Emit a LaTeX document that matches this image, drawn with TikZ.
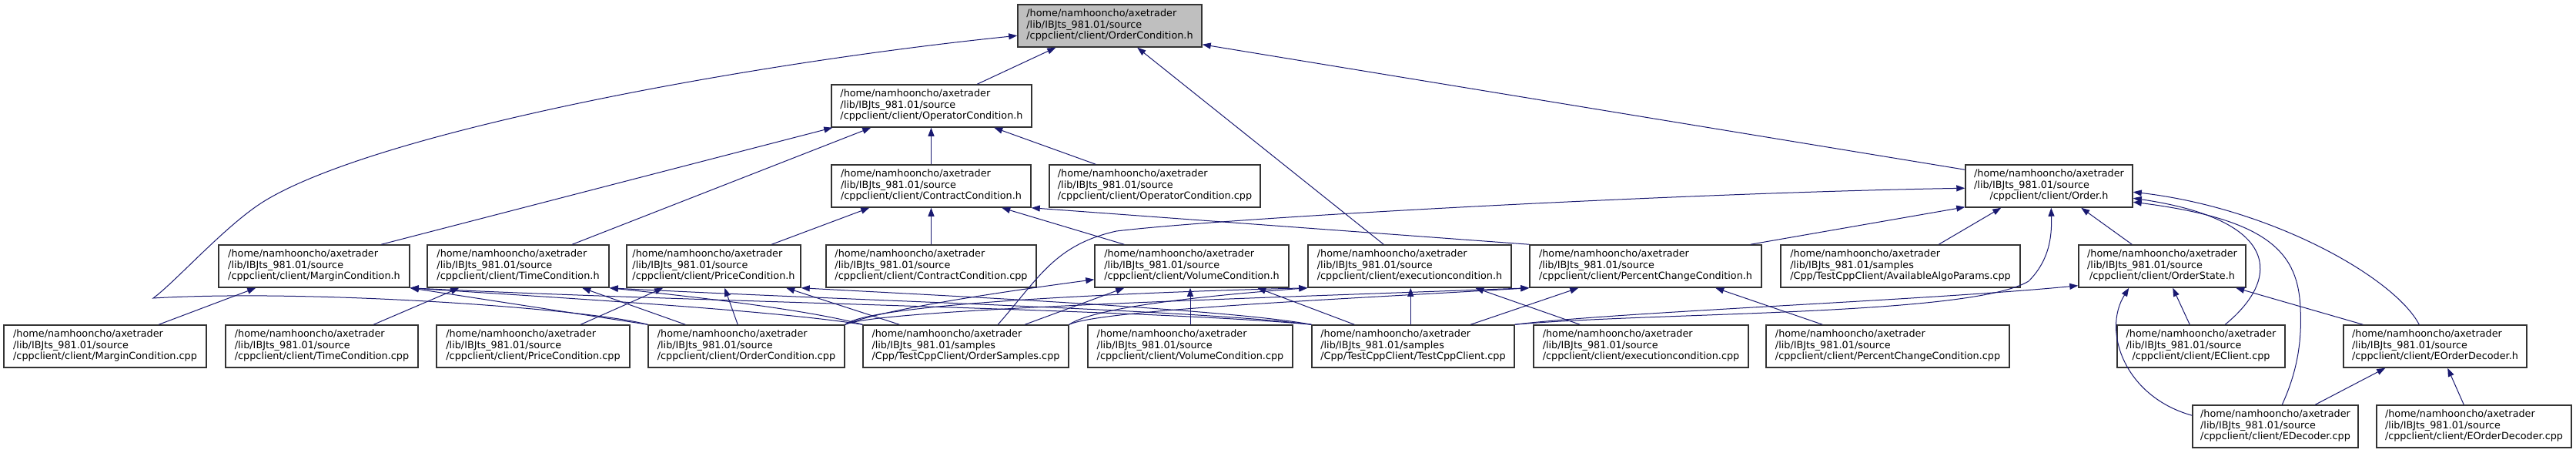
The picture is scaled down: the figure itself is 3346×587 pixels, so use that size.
\documentclass[tikz,border=0pt]{standalone}
\usepackage{fontspec}
\setmainfont{DejaVu Sans}
\usetikzlibrary{arrows.meta,calc}
\definecolor{edgecol}{HTML}{191970}
\definecolor{rootfill}{HTML}{BFBFBF}
\newcommand{\dlab}[3]{\begin{tabular}{@{}l@{}}#1\\#2\\\multicolumn{1}{@{}c@{}}{#3}\end{tabular}}
\newcommand{\hm}{/home/namhooncho/axetrader}
\newcommand{\srcl}{/lib/IBJts\_981.01/source}
\newcommand{\sml}{/lib/IBJts\_981.01/samples}
\begin{document}
\begin{tikzpicture}[x=1pt,y=-1pt,
  dbox/.style={draw=black!80, line width=1.5pt, fill=white, inner sep=0pt,
    minimum height=55pt, font=\fontsize{12.8}{14.4}\selectfont},
  rootbox/.style={dbox, fill=rootfill},
  dep/.style={draw=edgecol, line width=1pt, -{Triangle[length=11pt,width=8pt]}}]
\useasboundingbox (0,0) rectangle (3346,587);
% row 1
\node[rootbox, minimum width=239pt] (och) at (1441.5,33.5) {\dlab{\hm}{\srcl}{/cppclient/client/OrderCondition.h}};
% row 2
\node[dbox, minimum width=260pt] (oph) at (1210,137.5) {\dlab{\hm}{\srcl}{/cppclient/client/OperatorCondition.h}};
% row 3
\node[dbox, minimum width=259pt] (cch) at (1209.5,241.5) {\dlab{\hm}{\srcl}{/cppclient/client/ContractCondition.h}};
\node[dbox, minimum width=274pt] (opcpp) at (1500,241.5) {\dlab{\hm}{\srcl}{/cppclient/client/OperatorCondition.cpp}};
\node[dbox, minimum width=217pt] (ordh) at (2661.5,241.5) {\dlab{\hm}{\srcl}{/cppclient/client/Order.h}};
% row 4
\node[dbox, minimum width=248pt] (mch) at (408,345.5) {\dlab{\hm}{\srcl}{/cppclient/client/MarginCondition.h}};
\node[dbox, minimum width=236pt] (tch) at (673,345.5) {\dlab{\hm}{\srcl}{/cppclient/client/TimeCondition.h}};
\node[dbox, minimum width=226pt] (pch) at (927,345.5) {\dlab{\hm}{\srcl}{/cppclient/client/PriceCondition.h}};
\node[dbox, minimum width=273pt] (cccpp) at (1209.5,345.5) {\dlab{\hm}{\srcl}{/cppclient/client/ContractCondition.cpp}};
\node[dbox, minimum width=252pt] (vch) at (1548,345.5) {\dlab{\hm}{\srcl}{/cppclient/client/VolumeCondition.h}};
\node[dbox, minimum width=264pt] (ech) at (1831,345.5) {\dlab{\hm}{\srcl}{/cppclient/client/executioncondition.h}};
\node[dbox, minimum width=301pt] (pcch) at (2137.5,345.5) {\dlab{\hm}{\srcl}{/cppclient/client/PercentChangeCondition.h}};
\node[dbox, minimum width=311pt] (aap) at (2468.5,345.5) {\dlab{\hm}{\sml}{/Cpp/TestCppClient/AvailableAlgoParams.cpp}};
\node[dbox, minimum width=217pt] (osh) at (2808.5,345.5) {\dlab{\hm}{\srcl}{/cppclient/client/OrderState.h}};
% row 5
\node[dbox, minimum width=263pt] (mccpp) at (136.5,449.5) {\dlab{\hm}{\srcl}{/cppclient/client/MarginCondition.cpp}};
\node[dbox, minimum width=250pt] (tccpp) at (418,449.5) {\dlab{\hm}{\srcl}{/cppclient/client/TimeCondition.cpp}};
\node[dbox, minimum width=251pt] (pccpp) at (692.5,449.5) {\dlab{\hm}{\srcl}{/cppclient/client/PriceCondition.cpp}};
\node[dbox, minimum width=255pt] (occpp) at (969.5,449.5) {\dlab{\hm}{\srcl}{/cppclient/client/OrderCondition.cpp}};
\node[dbox, minimum width=267pt] (osam) at (1254.5,449.5) {\dlab{\hm}{\sml}{/Cpp/TestCppClient/OrderSamples.cpp}};
\node[dbox, minimum width=266pt] (vccpp) at (1546,449.5) {\dlab{\hm}{\srcl}{/cppclient/client/VolumeCondition.cpp}};
\node[dbox, minimum width=263pt] (tcc) at (1835.5,449.5) {\dlab{\hm}{\sml}{/Cpp/TestCppClient/TestCppClient.cpp}};
\node[dbox, minimum width=279pt] (eccpp) at (2131.5,449.5) {\dlab{\hm}{\srcl}{/cppclient/client/executioncondition.cpp}};
\node[dbox, minimum width=316pt] (pcccpp) at (2452,449.5) {\dlab{\hm}{\srcl}{/cppclient/client/PercentChangeCondition.cpp}};
\node[dbox, minimum width=218pt] (eclcpp) at (2859,449.5) {\dlab{\hm}{\srcl}{/cppclient/client/EClient.cpp}};
\node[dbox, minimum width=238pt] (eodh) at (3163,449.5) {\dlab{\hm}{\srcl}{/cppclient/client/EOrderDecoder.h}};
% row 6
\node[dbox, minimum width=215pt] (edec) at (2955.5,553.5) {\dlab{\hm}{\srcl}{/cppclient/client/EDecoder.cpp}};
\node[dbox, minimum width=253pt] (eodcpp) at (3213.5,553.5) {\dlab{\hm}{\srcl}{/cppclient/client/EOrderDecoder.cpp}};

% edges into OrderCondition.h
\draw[dep] ([xshift=190pt]oph.north west) -- ([xshift=50pt]och.south west);
\draw[dep] ([xshift=99pt]ech.north west) -- ([xshift=156pt]och.south west);
\draw[dep] ([yshift=-7pt]ordh.north west) -- ([yshift=4pt]och.south east);
\draw[dep] (occpp.north west) .. controls (760,400) and (400,375) .. (199,387)
  .. controls (229,365) and (295,290) .. (345,260)
  .. controls (495,170) and (972,82) .. ([yshift=-41pt]och.north west);
% edges into OperatorCondition.h
\draw[dep] ([xshift=212pt]mch.north west) -- ([xshift=2pt]oph.south west);
\draw[dep] ([xshift=189pt]tch.north west) -- ([xshift=52pt]oph.south west);
\draw[dep] (cch.north) -- (cch.north |- oph.south);
\draw[dep] ([xshift=61pt]opcpp.north west) -- ([xshift=212pt]oph.south west);
% edges into ContractCondition.h
\draw[dep] ([xshift=189pt]pch.north west) -- ([xshift=50pt]cch.south west);
\draw[dep] (cccpp.north) -- (cccpp.north |- cch.south);
\draw[dep] ([xshift=39pt]vch.north west) -- ([xshift=222pt]cch.south west);
\draw[dep] (pcch.north west) -- (cch.south east);
% edges into Order.h
\draw[dep] ([xshift=-15pt]pcch.north east) -- ([yshift=1pt]ordh.south west);
\draw[dep] ([xshift=176pt]osam.north west) .. controls (1350,360) and (1370,318) .. (1450,300)
  .. controls (1600,282) and (2200,250) .. ([yshift=-31pt]ordh.north west);
\draw[dep] ([xshift=206pt]aap.north west) -- ([xshift=47pt]ordh.south west);
\draw[dep] ([xshift=70pt]osh.north west) -- ([xshift=151pt]ordh.south west);
\draw[dep] (tcc.north east) .. controls (2150,405) and (2560,410) .. (2635,365)
  .. controls (2665,335) and (2665,300) .. ([xshift=112pt]ordh.south west);
\draw[dep] ([xshift=141pt]eclcpp.north west) .. controls (2965,360) and (2960,285) .. ([yshift=-44pt]ordh.north east);
\draw[dep] ([xshift=117pt]edec.north west) .. controls (2985,480) and (2990,440) .. (2988,400)
  .. controls (2985,330) and (2950,285) .. ([yshift=-49pt]ordh.north east);
\draw[dep] ([xshift=99pt]eodh.north west) .. controls (3110,360) and (2950,270) .. ([yshift=-36pt]ordh.north east);
% MarginCondition.h
\draw[dep] ([xshift=202pt]mccpp.north west) -- ([xshift=49pt]mch.south west);
\draw[dep] (occpp.north west) -- (mch.south east);
\draw[dep] (osam.north west) .. controls (1000,402) and (700,385) .. (mch.south east);
\draw[dep] (tcc.north west) .. controls (1500,402) and (900,392) .. (mch.south east);
% TimeCondition.h
\draw[dep] ([xshift=193pt]tccpp.north west) -- ([xshift=42pt]tch.south west);
\draw[dep] ([xshift=49pt]occpp.north west) -- ([xshift=202pt]tch.south west);
\draw[dep] (osam.north west) .. controls (1050,402) and (900,385) .. (tch.south east);
\draw[dep] (tcc.north west) .. controls (1550,402) and (1100,390) .. (tch.south east);
% PriceCondition.h
\draw[dep] ([xshift=188pt]pccpp.north west) -- ([xshift=48pt]pch.south west);
\draw[dep] ([xshift=117pt]occpp.north west) -- ([xshift=128pt]pch.south west);
\draw[dep] ([xshift=48pt]osam.north west) -- ([xshift=208pt]pch.south west);
\draw[dep] (tcc.north west) .. controls (1600,402) and (1250,385) .. (pch.south east);
% VolumeCondition.h
\draw[dep] (vccpp.north) -- (vccpp.north |- vch.south);
\draw[dep] (occpp.north east) .. controls (1150,400) and (1330,375) .. ([yshift=11pt]vch.south west);
\draw[dep] ([xshift=211pt]osam.north west) -- ([xshift=39pt]vch.south west);
\draw[dep] ([xshift=56pt]tcc.north west) -- ([xshift=212pt]vch.south west);
% executioncondition.h
\draw[dep] ([xshift=61pt]eccpp.north west) -- ([xshift=218pt]ech.south west);
\draw[dep] (occpp.north east) .. controls (1130,395) and (1450,380) .. (ech.south west);
\draw[dep] (osam.north east) .. controls (1420,400) and (1550,385) .. (ech.south west);
\draw[dep] ([xshift=129pt]tcc.north west) -- ([xshift=134pt]ech.south west);
% PercentChangeCondition.h
\draw[dep] ([xshift=74pt]pcccpp.north west) -- ([xshift=242pt]pcch.south west);
\draw[dep] (occpp.north east) .. controls (1140,402) and (1600,388) .. (pcch.south west);
\draw[dep] (osam.north east) .. controls (1430,402) and (1750,388) .. (pcch.south west);
\draw[dep] ([xshift=207pt]tcc.north west) -- ([xshift=64pt]pcch.south west);
% OrderState.h
\draw[dep] (tcc.north east) .. controls (2100,405) and (2500,390) .. ([yshift=3pt]osh.south west);
\draw[dep] ([xshift=95pt]eclcpp.north west) -- ([xshift=123pt]osh.south west);
\draw[dep] ([yshift=-14pt]edec.north west) .. controls (2760,515) and (2730,430) .. ([xshift=66pt]osh.south west);
\draw[dep] ([xshift=26pt]eodh.north west) -- ([xshift=205pt]osh.south west);
% EOrderDecoder.h
\draw[dep] ([xshift=160pt]edec.north west) -- ([xshift=55pt]eodh.south west);
\draw[dep] ([xshift=114pt]eodcpp.north west) -- ([xshift=136pt]eodh.south west);
\end{tikzpicture}
\end{document}
